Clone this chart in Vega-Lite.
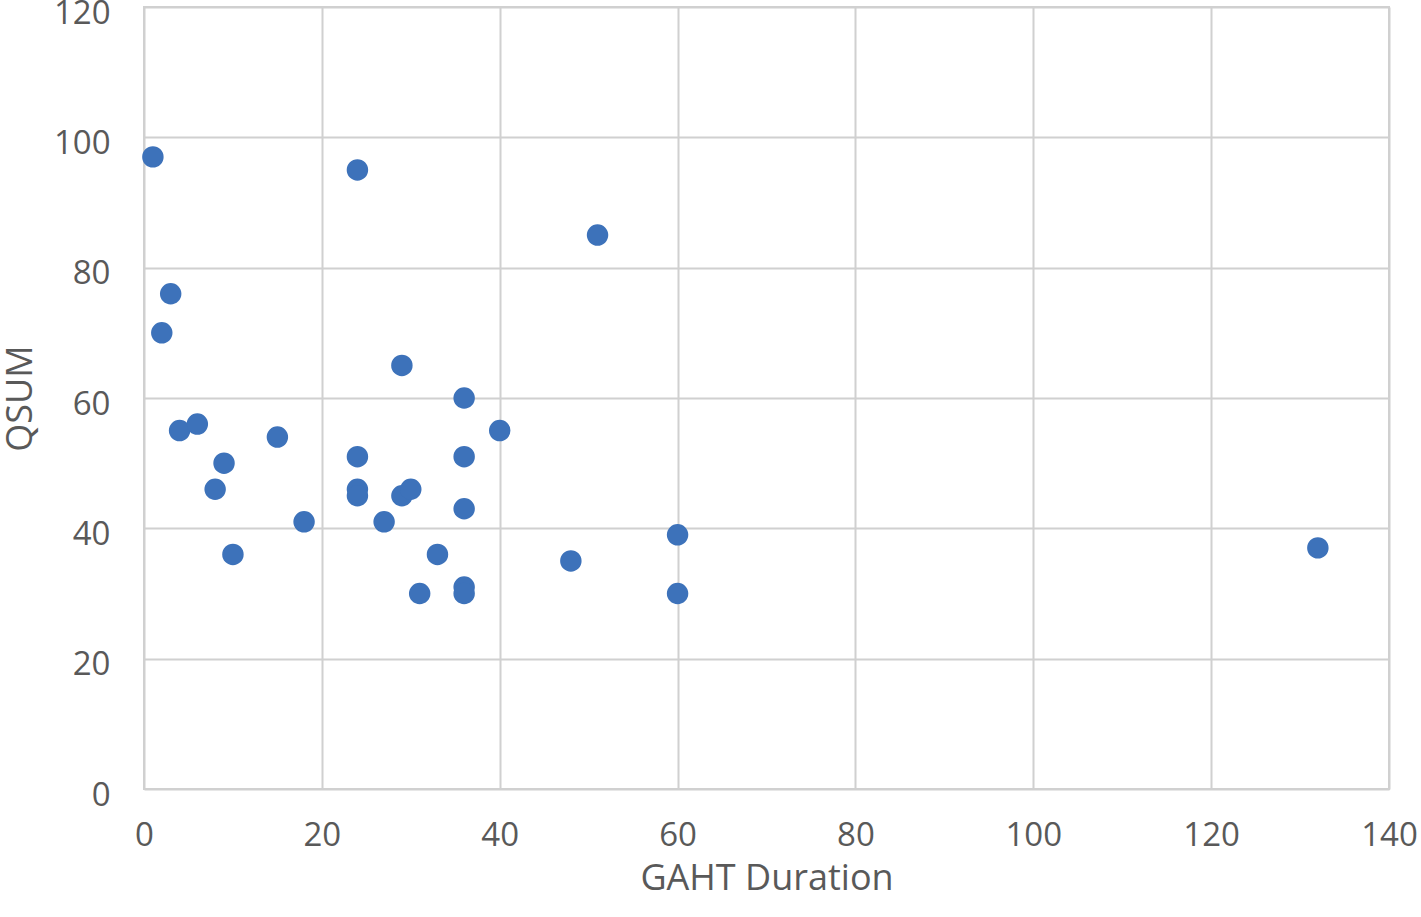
{
  "$schema": "https://vega.github.io/schema/vega-lite/v6.json",
  "width": 1245,
  "height": 782,
  "autosize": {"type": "none"},
  "padding": {"left": 144, "top": 7, "right": 32, "bottom": 128},
  "background": "white",
  "config": {
    "view": {"stroke": "#D0D0D0", "strokeWidth": 2},
    "font": "Open Sans"
  },
  "data": {
    "values": [
      {"duration": 1, "qsum": 97},
      {"duration": 24, "qsum": 95},
      {"duration": 51, "qsum": 85},
      {"duration": 3, "qsum": 76},
      {"duration": 2, "qsum": 70},
      {"duration": 29, "qsum": 65},
      {"duration": 36, "qsum": 60},
      {"duration": 4, "qsum": 55},
      {"duration": 6, "qsum": 56},
      {"duration": 15, "qsum": 54},
      {"duration": 40, "qsum": 55},
      {"duration": 24, "qsum": 51},
      {"duration": 36, "qsum": 51},
      {"duration": 9, "qsum": 50},
      {"duration": 8, "qsum": 46},
      {"duration": 24, "qsum": 46},
      {"duration": 24, "qsum": 45},
      {"duration": 29, "qsum": 45},
      {"duration": 30, "qsum": 46},
      {"duration": 18, "qsum": 41},
      {"duration": 27, "qsum": 41},
      {"duration": 36, "qsum": 43},
      {"duration": 60, "qsum": 39},
      {"duration": 132, "qsum": 37},
      {"duration": 10, "qsum": 36},
      {"duration": 33, "qsum": 36},
      {"duration": 48, "qsum": 35},
      {"duration": 36, "qsum": 31},
      {"duration": 31, "qsum": 30},
      {"duration": 36, "qsum": 30},
      {"duration": 60, "qsum": 30}
    ]
  },
  "mark": {"type": "circle", "size": 460, "color": "#3D72BA", "opacity": 1},
  "encoding": {
    "x": {
      "field": "duration",
      "type": "quantitative",
      "title": "GAHT Duration",
      "scale": {"domain": [0, 140], "nice": false},
      "axis": {
        "values": [0, 20, 40, 60, 80, 100, 120, 140],
        "grid": true,
        "gridColor": "#D0D0D0",
        "gridWidth": 2,
        "domain": false,
        "ticks": false,
        "labelFlush": false,
        "labelFontSize": 33,
        "labelColor": "#595959",
        "labelPadding": 30,
        "titleFontSize": 36,
        "titleFontWeight": "normal",
        "titleColor": "#595959",
        "titlePadding": 9
      }
    },
    "y": {
      "field": "qsum",
      "type": "quantitative",
      "title": "QSUM",
      "scale": {"domain": [0, 120], "nice": false},
      "axis": {
        "values": [0, 20, 40, 60, 80, 100, 120],
        "grid": true,
        "gridColor": "#D0D0D0",
        "gridWidth": 2,
        "domain": false,
        "ticks": false,
        "labelFlush": false,
        "labelOffset": 6,
        "labelFontSize": 33,
        "labelColor": "#595959",
        "labelPadding": 34,
        "titleFontSize": 36,
        "titleFontWeight": "normal",
        "titleColor": "#595959",
        "titlePadding": 14
      }
    }
  }
}
